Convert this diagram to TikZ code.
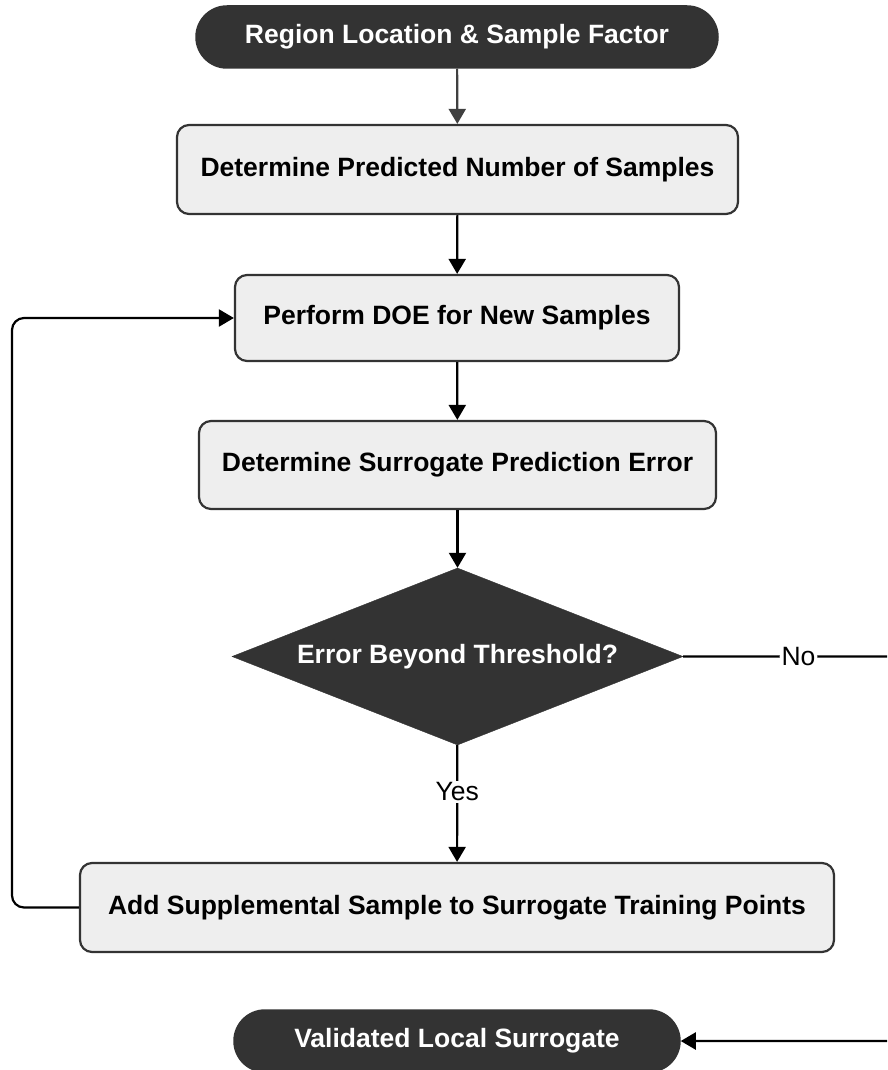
\documentclass[tikz,border=0pt]{standalone}
\usepackage{fontspec}
\setmainfont{Liberation Sans}
\usetikzlibrary{shapes.geometric,arrows.meta}
\definecolor{darkfill}{HTML}{333333}
\definecolor{boxfill}{HTML}{EEEEEE}
\definecolor{boxline}{HTML}{333333}
\tikzset{
  terminal/.style={draw=darkfill,fill=darkfill,text=white,rounded corners=31pt,
    inner sep=0pt,font=\fontsize{26.5}{31}\selectfont\bfseries,line width=1.5pt},
  procbox/.style={draw=boxline,fill=boxfill,rounded corners=12pt,line width=2.2pt,
    inner sep=0pt,font=\fontsize{26.5}{31}\selectfont\bfseries},
  decision/.style={diamond,draw=darkfill,fill=darkfill,text=white,inner sep=0pt,
    shape aspect=2.55,font=\fontsize{26.5}{31}\selectfont\bfseries},
  flow/.style={line width=2.2pt,-{Triangle[width=17pt,length=15pt]}},
  edgelabel/.style={fill=white,inner sep=2pt,font=\fontsize{26.5}{31}\selectfont}
}
\begin{document}
\begin{tikzpicture}[x=1pt,y=-1pt]
  \useasboundingbox (0,0) rectangle (887,1070);
  \clip (0,0) rectangle (887,1070);

  % start / end terminals
  \node[terminal,minimum width=522pt,minimum height=62pt] (start) at (457,37)
    {Region Location \& Sample Factor};
  \node[terminal,minimum width=446pt,minimum height=62pt] (finish) at (457,1041)
    {Validated Local Surrogate};

  % process steps
  \node[procbox,minimum width=561pt,minimum height=89pt] (predict) at (457.5,169.5)
    {Determine Predicted Number of Samples};
  \node[procbox,minimum width=444pt,minimum height=86pt] (doe) at (457,318)
    {Perform DOE for New Samples};
  \node[procbox,minimum width=517pt,minimum height=88pt] (err) at (457.5,465)
    {Determine Surrogate Prediction Error};
  \node[decision,minimum width=451pt,minimum height=177pt] (check) at (457.5,656.5)
    {Error Beyond Threshold?};
  \node[procbox,minimum width=754pt,minimum height=89pt] (supp) at (457,907.5)
    {Add Supplemental Sample to Surrogate Training Points};

  % loop corner points
  \coordinate (loopB) at (12,907.5);
  \coordinate (loopT) at (12,318);
  \coordinate (outA) at (905,656.5);
  \coordinate (outB) at (905,1041);

  % connectors
  \draw[flow,draw=black!75] (start) -- (predict);
  \draw[flow] (predict) -- (doe);
  \draw[flow] (doe) -- (err);
  \draw[flow] (err) -- (check);
  \draw[flow] (check) -- node[edgelabel,pos=0.4]{Yes} (supp);
  \draw[flow,rounded corners=12pt] (supp.west) -- (loopB) -- (loopT) -- (doe.west);
  \draw[flow,rounded corners=12pt] (check.east) -- node[edgelabel,pos=0.52]{No} (outA)
    -- (outB) -- (finish.east);
\end{tikzpicture}
\end{document}
